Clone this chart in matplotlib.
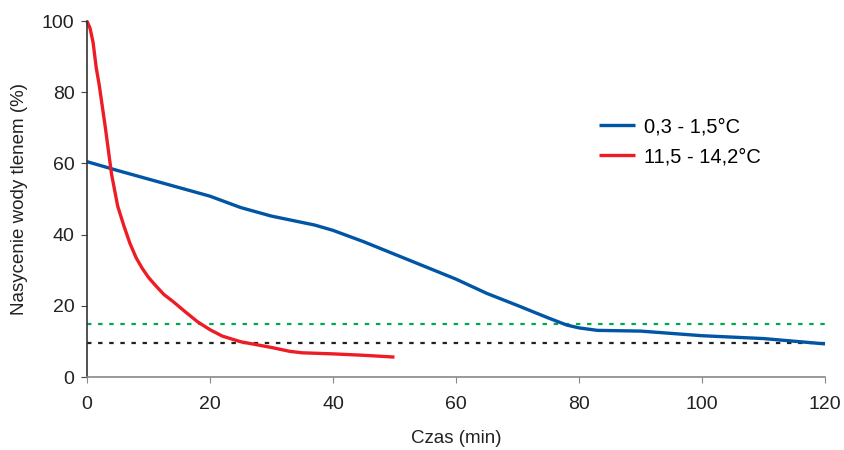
import matplotlib
matplotlib.use("Agg")
import matplotlib.pyplot as plt

plt.rcParams['font.family'] = ['Liberation Sans', 'DejaVu Sans']

blue_label = "0,3 - 1,5°C"
blue_x = [0, 5, 10, 15, 20, 25, 30, 37, 40, 45, 50, 55, 60, 65, 70, 75, 78, 80, 83, 90, 100, 110, 120]
blue_y = [60.5, 58.0, 55.6, 53.2, 50.8, 47.6, 45.2, 42.7, 41.2, 38.0, 34.5, 31.0, 27.5, 23.5, 20.1, 16.6, 14.6, 13.8, 13.1, 12.9, 11.6, 10.8, 9.3]

red_label = "11,5 - 14,2°C"
red_x = [0, 0.5, 1, 1.5, 2, 3, 4, 5, 6, 7, 8, 9, 10, 11, 12.5, 14, 16, 18, 20, 22, 25, 30, 33, 35, 40, 45, 50]
red_y = [100, 98, 94, 87, 82, 70, 57, 48, 42.5, 37.5, 33.5, 30.5, 28, 26, 23.2, 21.2, 18.3, 15.5, 13.3, 11.5, 9.9, 8.3, 7.2, 6.8, 6.5, 6.1, 5.6]

ref_green = 15
ref_black = 9.6

xticks = [0, 20, 40, 60, 80, 100, 120]
yticks = [0, 20, 40, 60, 80, 100]

fig = plt.figure(figsize=(8.44, 4.5), dpi=100)
ax = fig.add_axes([0.103, 0.1622, 0.8745, 0.7911])

ax.plot([0, 120], [ref_green, ref_green], color='#00a651', lw=1.6, ls=(0, (2, 3)))
ax.plot([0, 120], [ref_black, ref_black], color='#222222', lw=1.6, ls=(0, (2, 3)))
ax.plot(blue_x, blue_y, color='#0055a5', lw=2.4, label=blue_label, clip_on=False, solid_capstyle='butt')
ax.plot(red_x, red_y, color='#ee1c25', lw=2.4, label=red_label, clip_on=False, solid_capstyle='butt')

ax.set_xlim(0, 120)
ax.set_ylim(0, 100)
ax.set_xticks(xticks)
ax.set_yticks(yticks)
ax.tick_params(axis='both', labelsize=14, length=4, direction='out', colors='#222222')
ax.tick_params(axis='x', color='#888888', pad=10)
ax.tick_params(axis='y', color='#444444', pad=5)
for s in ['top', 'right']:
    ax.spines[s].set_visible(False)
ax.spines['left'].set_color('#333333')
ax.spines['bottom'].set_color('#888888')
ax.spines['left'].set_linewidth(1.2)
ax.spines['bottom'].set_linewidth(1.2)

ax.set_xlabel("Czas (min)", fontsize=13.5, color='#222222', labelpad=12)
ax.set_ylabel("Nasycenie wody tlenem (%)", fontsize=13.5, color='#222222', labelpad=10)

leg = fig.legend(loc='center left', bbox_to_anchor=(0.688, 0.685), frameon=False,
                 fontsize=14.5, handlelength=1.8, labelspacing=0.55, handletextpad=0.45)

fig.savefig("out.png", dpi=100)
